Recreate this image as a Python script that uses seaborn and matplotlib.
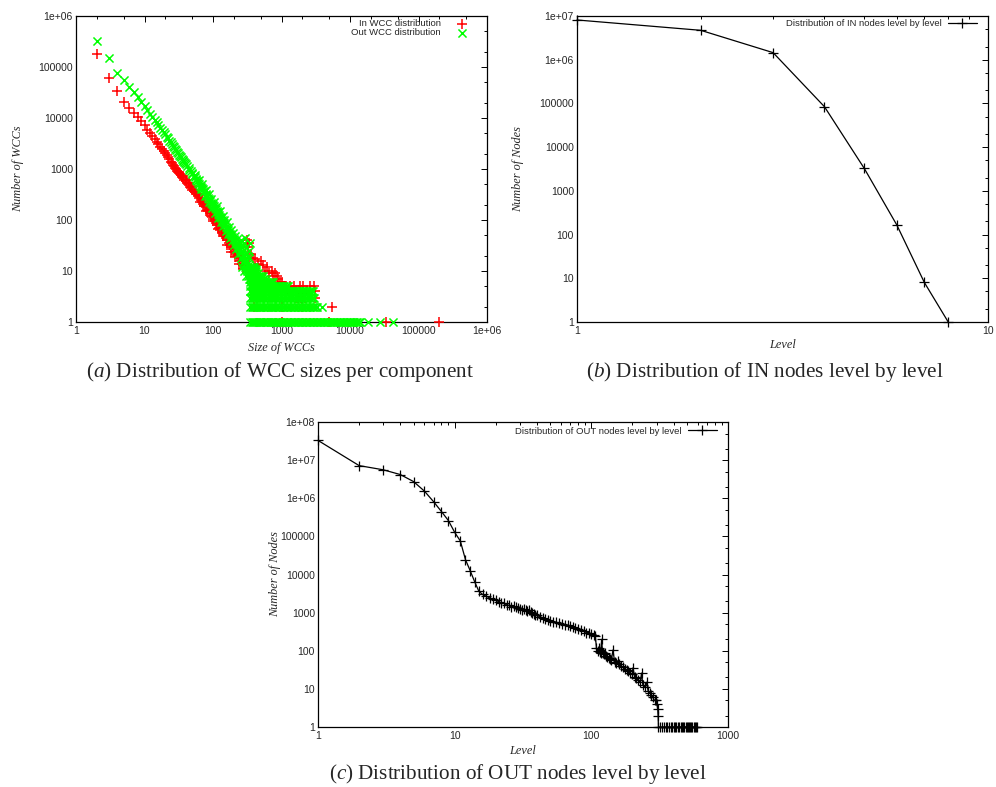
import numpy as np
import pandas as pd
import matplotlib
matplotlib.use("Agg")
import matplotlib.pyplot as plt
from matplotlib import ticker
import seaborn as sns

# (a) WCC size distribution -- "In" series (red +)
in_diag_sizes = [2, 3, 4, 5, 6, 7, 8, 9, 10, 11,
                 12, 13, 14, 15, 16, 17, 18, 19, 20, 21,
                 22, 23, 24, 25, 26, 27, 28, 29, 30, 31,
                 32, 33, 34, 35, 36, 37, 38, 40, 41, 42,
                 44, 45, 46, 48, 49, 50, 52, 54, 55, 56,
                 58, 60, 62, 63, 64, 66, 68, 69, 72, 74,
                 75, 78, 79, 80, 81, 85, 87, 89, 93, 95,
                 97, 99, 101, 103, 106, 111, 112, 116, 118, 121,
                 122, 128, 131, 134, 138, 140, 142, 147, 154, 155,
                 160, 161, 168, 169, 177, 182, 185, 186, 195, 198,
                 205, 210, 212, 215, 226, 230, 238, 240, 250, 252,
                 263, 270, 272, 276, 290, 292]
in_diag_counts = [178000, 60000, 34000, 21000, 16000, 12700, 10500, 8600, 7200, 5900,
                  5000, 4400, 3900, 3350, 3050, 2700, 2450, 2250, 2080, 1900,
                  1720, 1580, 1400, 1330, 1220, 1140, 1060, 990, 930, 880,
                  830, 800, 760, 700, 680, 720, 620, 570, 600, 530,
                  490, 520, 450, 420, 440, 395, 370, 350, 380, 335,
                  320, 300, 310, 270, 230, 250, 270, 225, 210, 220,
                  190, 178, 150, 185, 160, 150, 165, 136, 122, 140,
                  113, 95, 105, 125, 96, 88, 105, 80, 68, 90,
                  71, 64, 75, 59, 48, 54, 65, 48, 44, 52,
                  33, 40, 44, 36, 33, 38, 24, 30, 27, 32,
                  24, 19, 28, 22, 20, 24, 18, 14, 16, 21,
                  14, 11, 18, 13, 12, 16]
in_tail_sizes = [310, 325, 330, 360, 380, 380, 400, 410, 420, 450,
                 450, 500, 510, 540, 570, 600, 610, 650, 720, 760,
                 800, 800, 860, 900, 950, 1000, 1060, 1120, 1250, 1330,
                 1420, 1500, 1600, 1650, 1750, 1860, 1900, 1970, 2050, 2200,
                 2330, 2600, 2930, 3030, 3030, 400, 1000, 2000, 5500, 1000,
                 5000, 33000, 200000]
in_tail_counts = [40, 30, 35, 22, 18, 9, 10, 17, 7, 14,
                  8, 6, 16, 13, 10, 5, 12, 9, 10, 8,
                  9, 4, 8, 7, 6, 6, 5, 5, 4, 5,
                  4, 5, 4, 3, 3, 5, 3, 3, 5, 3,
                  4, 5, 5, 4, 3, 2, 2, 2, 2, 1,
                  1, 1, 1]

# (a) "Out" series (green x)
out_diag_sizes = [2, 3, 4, 5, 6, 7, 8, 9, 10, 11,
                  12, 13, 14, 15, 16, 17, 18, 19, 20, 21,
                  22, 23, 24, 25, 26, 27, 28, 29, 30, 31,
                  32, 33, 34, 35, 36, 37, 38, 39, 40, 42,
                  44, 45, 47, 49, 50, 52, 54, 55, 56, 57,
                  59, 61, 62, 63, 65, 66, 67, 69, 70, 71,
                  73, 75, 76, 78, 79, 80, 83, 85, 86, 87,
                  88, 91, 94, 95, 97, 98, 100, 103, 104, 106,
                  108, 110, 113, 115, 117, 119, 120, 124, 126, 128,
                  130, 132, 136, 138, 140, 142, 145, 147, 150, 153,
                  155, 158, 160, 165, 166, 170, 172, 176, 178, 182,
                  185, 188, 192, 195, 200, 202, 207, 210, 215, 218,
                  223, 225, 231, 235, 240, 245, 250, 255, 260, 260,
                  265, 265, 270, 275, 280, 281, 285, 285, 290, 292,
                  295, 300, 300, 305, 305, 315, 318, 320, 320, 330,
                  330, 335, 340, 340, 345, 345]
out_diag_counts = [330000, 150000, 75000, 55000, 40000, 32000, 26000, 20500, 17000, 14500,
                   12200, 10600, 9300, 8200, 7200, 6500, 5800, 5300, 4850, 4300,
                   4050, 3600, 3400, 3100, 2850, 2700, 2450, 2350, 2150, 2050,
                   1900, 1800, 1700, 1580, 1530, 1420, 1380, 1290, 1250, 1130,
                   1040, 960, 900, 830, 800, 740, 690, 760, 650, 600,
                   580, 530, 600, 510, 470, 400, 450, 420, 500, 400,
                   370, 360, 300, 330, 380, 310, 290, 270, 230, 320,
                   255, 240, 220, 260, 210, 170, 200, 185, 230, 175,
                   140, 165, 150, 190, 145, 110, 130, 125, 150, 115,
                   90, 108, 100, 120, 92, 75, 88, 100, 80, 62,
                   74, 90, 70, 52, 63, 72, 58, 44, 54, 64,
                   50, 38, 46, 55, 42, 32, 38, 48, 36, 27,
                   33, 42, 30, 22, 28, 36, 26, 18, 23, 40,
                   30, 12, 21, 15, 35, 19, 26, 10, 45, 17,
                   12, 22, 30, 15, 8, 10, 14, 20, 8, 13,
                   25, 9, 18, 7, 12, 35]
# dense horizontal rows of small counts: sizes on the rows and where each row ends
band_sizes = [350, 365, 380, 395, 410, 430, 450, 470, 490, 510, 535, 560, 585, 610,
              640, 670, 700, 730, 760, 800, 840, 880, 920, 960, 1000, 1050, 1100,
              1150, 1200, 1260, 1320, 1380, 1450, 1520, 1590, 1660, 1740, 1820, 1900,
              1990, 2080, 2180, 2280, 2390, 2500, 2620, 2740, 2870, 3000, 3150, 3300,
              3450, 3600, 3800, 4000, 4200, 4400, 4600, 4850, 5100, 5350, 5600, 5900,
              6200, 6500, 6800, 7100, 7500, 7900, 8300, 8700, 9100, 9550, 10000,
              10500, 11000, 11600, 12200, 12800, 13500, 14200]
out_row_counts = [12, 11, 10, 9, 8, 7, 6, 5, 4, 3, 2, 1]
out_row_ends = [400, 430, 430, 460, 540, 590, 760, 1280, 2900, 3000, 3300, 14200]
out_tail_sizes = [3900, 18600, 27500, 42000]
out_tail_counts = [2, 1, 1, 1]

# (b) IN nodes level by level
in_levels = [1, 2, 3, 4, 5, 6, 7, 8]
in_level_counts = [8100000, 4700000, 1450000, 84000, 3250, 165, 8, 1]

# (c) OUT nodes level by level
out_levels = [1, 2, 3, 4, 5, 6, 7, 8, 9, 10,
              11, 12, 13, 14, 15, 16, 17, 18, 19, 20,
              21, 22, 23, 24, 25, 26, 27, 28, 29, 30,
              31, 32, 33, 34, 35, 36, 37, 38, 39, 40,
              42, 44, 46, 48, 50, 52, 55, 58, 61, 64,
              67, 70, 73, 76, 80, 84, 88, 92, 96, 100,
              104, 107, 109, 111, 113, 115, 117, 119, 121, 123,
              125, 128, 131, 134, 137, 140, 144, 148, 152, 156,
              160, 165, 170, 175, 181, 187, 193, 200, 202, 207,
              214, 221, 228, 233, 238, 245, 254, 260, 268, 275,
              282, 290, 296, 302, 306, 308, 310, 320, 330, 340,
              350, 360, 370, 380, 390, 400, 410, 420, 430, 440,
              450, 460, 470, 480, 490, 500, 510, 520, 530, 540,
              550, 560, 570, 580, 590]
out_level_counts = [33000000, 7200000, 5600000, 4200000, 2750000, 1550000, 820000, 450000, 260000, 128000,
                    76000, 24500, 12500, 6500, 3700, 3000, 2700, 2450, 2250, 2100,
                    1950, 1800, 1750, 1600, 1550, 1450, 1480, 1380, 1300, 1250,
                    1200, 1260, 1150, 1120, 1180, 1060, 980, 920, 880, 850,
                    780, 740, 680, 650, 620, 580, 560, 520, 500, 480,
                    470, 440, 430, 400, 370, 360, 330, 300, 300, 280,
                    260, 240, 120, 100, 115, 95, 90, 200, 85, 80,
                    90, 72, 68, 64, 60, 56, 105, 52, 48, 55,
                    44, 40, 37, 34, 31, 29, 26, 24, 36, 21,
                    19, 17, 15, 26, 13, 11, 15, 9, 8, 7,
                    6, 5, 5, 4, 3, 2, 1, 1, 1, 1,
                    1, 1, 1, 1, 1, 1, 1, 1, 1, 1,
                    1, 1, 1, 1, 1, 1, 1, 1, 1, 1,
                    1, 1, 1, 1, 1]

sns.set_style("white")
plt.rcParams["font.family"] = ["Liberation Sans", "DejaVu Sans"]
plt.rcParams["mathtext.fontset"] = "custom"
plt.rcParams["mathtext.rm"] = "Liberation Serif"
plt.rcParams["mathtext.it"] = "Liberation Serif:italic"

RED = "#ff0000"
GREEN = "#00ff00"
SERIF = "Liberation Serif"


def gp_label(v, pos):
    # gnuplot style: plain integers, exponent form from 1e6 up
    e = int(round(np.log10(v)))
    return f"1e+{e:02d}" if e >= 6 else str(10 ** e)


def log_axes(ax, xmax, ymax, xsubs, ysubs):
    ax.set_xscale("log")
    ax.set_yscale("log")
    ax.set_xlim(1, xmax)
    ax.set_ylim(1, ymax)
    for axis, subs in ((ax.xaxis, xsubs), (ax.yaxis, ysubs)):
        axis.set_major_locator(ticker.LogLocator(base=10, numticks=100))
        axis.set_minor_locator(ticker.LogLocator(base=10, subs=subs, numticks=100))
        axis.set_major_formatter(ticker.FuncFormatter(gp_label))
        axis.set_minor_formatter(ticker.NullFormatter())
    ax.tick_params(which="both", direction="in", top=True, right=True,
                   color="black", width=0.7)
    ax.tick_params(which="major", length=4, labelsize=7.5)
    ax.tick_params(which="minor", length=2)
    ax.tick_params(axis="x", pad=3)
    ax.tick_params(axis="y", pad=2.2)
    for s in ax.spines.values():
        s.set_color("black")
        s.set_linewidth(0.9)


def axis_labels(ax, xlabel, ylabel, xy, yx):
    ax.set_xlabel(xlabel, family=SERIF, style="italic", fontsize=8.8)
    ax.set_ylabel(ylabel, family=SERIF, style="italic", fontsize=8.8)
    ax.xaxis.label.set_va("center")
    ax.yaxis.label.set_va("center")
    ax.xaxis.set_label_coords(0.5, xy)
    ax.yaxis.set_label_coords(yx, 0.5)


fig = plt.figure(figsize=(9.96, 7.87), dpi=100)

# ---- (a) ----
ax_a = fig.add_axes([0.0763, 0.5909, 0.4127, 0.3888])
in_df = pd.DataFrame({"size": in_diag_sizes + in_tail_sizes,
                      "count": in_diag_counts + in_tail_counts})
rows = [(s, c) for c, end in zip(out_row_counts, out_row_ends) for s in band_sizes if s <= end]
out_df = pd.DataFrame({"size": out_diag_sizes + [r[0] for r in rows] + out_tail_sizes,
                       "count": out_diag_counts + [r[1] for r in rows] + out_tail_counts})
sns.scatterplot(data=in_df, x="size", y="count", marker="+", color=RED, s=42,
                linewidth=1.1, label="In WCC distribution", ax=ax_a, clip_on=False, zorder=3)
sns.scatterplot(data=out_df, x="size", y="count", marker="x", color=GREEN, s=34,
                linewidth=1.1, label="Out WCC distribution", ax=ax_a, clip_on=False, zorder=4)
log_axes(ax_a, 1e6, 1e6, (2, 5), (2, 5))
axis_labels(ax_a, "Size of WCCs", "Number of WCCs", -0.085, -0.141)
leg = ax_a.legend(loc="upper right", bbox_to_anchor=(0.956, 0.989), frameon=False,
                  markerfirst=False, fontsize=6.8, handlelength=1.5, handletextpad=1.5,
                  borderpad=0, borderaxespad=0, labelspacing=0, scatterpoints=1)
for col in leg._legend_handle_box.get_children():
    col.align = "right"

# ---- (b) ----
ax_b = fig.add_axes([0.5793, 0.5909, 0.4127, 0.3888])
in_lvl_df = pd.DataFrame({"level": in_levels, "count": in_level_counts})
sns.lineplot(data=in_lvl_df, x="level", y="count", color="black", linewidth=0.9,
             marker="+", markersize=7, markeredgewidth=0.9, markeredgecolor="black",
             estimator=None, label="Distribution of IN nodes level by level",
             ax=ax_b, clip_on=False)
log_axes(ax_b, 10, 1e7, tuple(range(2, 10)), (2, 5))
axis_labels(ax_b, "Level", "Number of Nodes", -0.075, -0.1436)
ax_b.legend(loc="upper right", bbox_to_anchor=(0.973, 0.989), frameon=False,
            markerfirst=False, fontsize=6.8, handlelength=3.1, handletextpad=0.65,
            borderpad=0, borderaxespad=0)

# ---- (c) ----
ax_c = fig.add_axes([0.3193, 0.0762, 0.4116, 0.3875])
out_lvl_df = pd.DataFrame({"level": out_levels, "count": out_level_counts})
sns.lineplot(data=out_lvl_df, x="level", y="count", color="black", linewidth=0.9,
             marker="+", markersize=7, markeredgewidth=0.9, markeredgecolor="black",
             estimator=None, label="Distribution of OUT nodes level by level",
             ax=ax_c, clip_on=False)
log_axes(ax_c, 1000, 1e8, tuple(range(2, 10)), (2, 5))
axis_labels(ax_c, "Level", "Number of Nodes", -0.079, -0.105)
ax_c.legend(loc="upper right", bbox_to_anchor=(0.973, 0.985), frameon=False,
            markerfirst=False, fontsize=6.8, handlelength=3.1, handletextpad=0.65,
            borderpad=0, borderaxespad=0)

# captions
cap = dict(ha="center", va="baseline", fontsize=15.2, family=SERIF)
fig.text(0.281, 0.521, r"($\mathit{a}$) Distribution of WCC sizes per component", **cap)
fig.text(0.768, 0.521, r"($\mathit{b}$) Distribution of IN nodes level by level", **cap)
fig.text(0.5196, 0.0105, r"($\mathit{c}$) Distribution of OUT nodes level by level", **cap)

fig.savefig("out.png", dpi=100)
